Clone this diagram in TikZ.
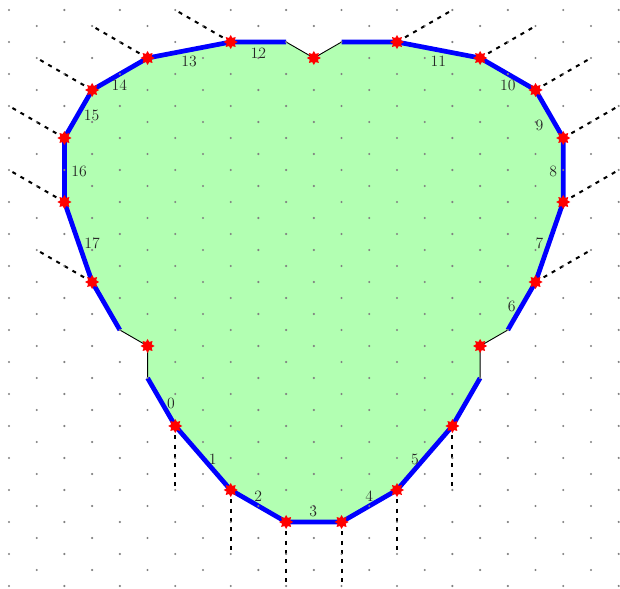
\documentclass[tikz,border=0pt]{standalone}
\usetikzlibrary{shapes.geometric}
\begin{document}
\begin{tikzpicture}[x={(0.866025cm,0)}, y={(0,-0.5cm)},
  blueedge/.style={blue, line width=4.2pt, line join=round},
  thinedge/.style={black, line width=0.8pt},
  rays/.style={black, line width=1.8pt, dash pattern=on 3.6pt off 4.7pt},
  latdot/.style={gray},
  redstar/.style={star, star points=8, star point ratio=1.6, fill=red, draw=none, inner sep=0pt, minimum size=12.5pt},
  elabel/.style={font=\fontsize{14}{16}\selectfont, inner sep=0pt, text=black!85}]
\useasboundingbox (-0.32476,-0.625) rectangle (22.048,36.1875);
% polygon vertices
\coordinate (c0) at (5,23);
\coordinate (v0) at (6,26);
\coordinate (v1) at (8,30);
\coordinate (v2) at (10,32);
\coordinate (v3) at (12,32);
\coordinate (v4) at (14,30);
\coordinate (v5) at (16,26);
\coordinate (c1) at (17,23);
\coordinate (n1) at (17,21);
\coordinate (c2) at (18,20);
\coordinate (v6) at (19,17);
\coordinate (v7) at (20,12);
\coordinate (v8) at (20,8);
\coordinate (v9) at (19,5);
\coordinate (v10) at (17,3);
\coordinate (v11) at (14,2);
\coordinate (c3) at (12,2);
\coordinate (n2) at (11,3);
\coordinate (c4) at (10,2);
\coordinate (v12) at (8,2);
\coordinate (v13) at (5,3);
\coordinate (v14) at (3,5);
\coordinate (v15) at (2,8);
\coordinate (v16) at (2,12);
\coordinate (v17) at (3,17);
\coordinate (c5) at (4,20);
\coordinate (n3) at (5,21);
% ray ends
\coordinate (e0) at (6,30);
\coordinate (e1) at (8,34);
\coordinate (e2) at (10,36);
\coordinate (e3) at (12,36);
\coordinate (e4) at (14,34);
\coordinate (e5) at (16,30);
\coordinate (e6) at (21,15);
\coordinate (e7) at (22,10);
\coordinate (e8) at (22,6);
\coordinate (e9) at (21,3);
\coordinate (e10) at (19,1);
\coordinate (e11) at (16,0);
\coordinate (e12) at (6,0);
\coordinate (e13) at (3,1);
\coordinate (e14) at (1,3);
\coordinate (e15) at (0,6);
\coordinate (e16) at (0,10);
\coordinate (e17) at (1,15);
% fill
\fill[green!30] (c0) -- (v0) -- (v1) -- (v2) -- (v3) -- (v4) -- (v5) -- (c1) -- (n1) -- (c2)
  -- (v6) -- (v7) -- (v8) -- (v9) -- (v10) -- (v11) -- (c3) -- (n2) -- (c4)
  -- (v12) -- (v13) -- (v14) -- (v15) -- (v16) -- (v17) -- (c5) -- (n3) -- cycle;
% blue edges
\draw[blueedge] (c0) -- (v0) -- (v1) -- (v2) -- (v3) -- (v4) -- (v5) -- (c1);
\draw[blueedge] (c2) -- (v6) -- (v7) -- (v8) -- (v9) -- (v10) -- (v11) -- (c3);
\draw[blueedge] (c4) -- (v12) -- (v13) -- (v14) -- (v15) -- (v16) -- (v17) -- (c5);
% thin edges
\draw[thinedge] (c1) -- (n1) -- (c2);
\draw[thinedge] (c3) -- (n2) -- (c4);
\draw[thinedge] (c5) -- (n3) -- (c0);
% rays
\foreach \i in {0,...,17} { \draw[rays] (v\i) -- (e\i); }
% lattice dots
\foreach \m in {0,2,...,36} { \foreach \k in {0,2,...,22} { \fill[latdot] (\k,\m) circle (1.05pt); } }
\foreach \m in {1,3,...,35} { \foreach \k in {1,3,...,21} { \fill[latdot] (\k,\m) circle (1.05pt); } }
% stars
\foreach \i in {0,...,17} { \node[redstar] (st\i) at (v\i) {}; }
\node[redstar] (sn1) at (n1) {};
\node[redstar] (sn2) at (n2) {};
\node[redstar] (sn3) at (n3) {};
% labels
\node[elabel] (l0) at (5.846,24.58) {0};
\node[elabel] (l1) at (7.35,28.06) {1};
\node[elabel] (l2) at (8.996,30.375) {2};
\node[elabel] (l3) at (10.98,31.36) {3};
\node[elabel] (l4) at (13.0,30.375) {4};
\node[elabel] (l5) at (14.65,28.06) {5};
\node[elabel] (l6) at (18.14,18.54) {6};
\node[elabel] (l7) at (19.14,14.58) {7};
\node[elabel] (l8) at (19.64,10.1) {8};
\node[elabel] (l9) at (19.14,7.19) {9};
\node[elabel] (l10) at (18.0,4.69) {10};
\node[elabel] (l11) at (15.49,3.19) {11};
\node[elabel] (l12) at (9.0,2.71) {12};
\node[elabel] (l13) at (6.5,3.19) {13};
\node[elabel] (l14) at (3.98,4.69) {14};
\node[elabel] (l15) at (2.98,6.56) {15};
\node[elabel] (l16) at (2.53,10.1) {16};
\node[elabel] (l17) at (3.0,14.58) {17};
\end{tikzpicture}
\end{document}
